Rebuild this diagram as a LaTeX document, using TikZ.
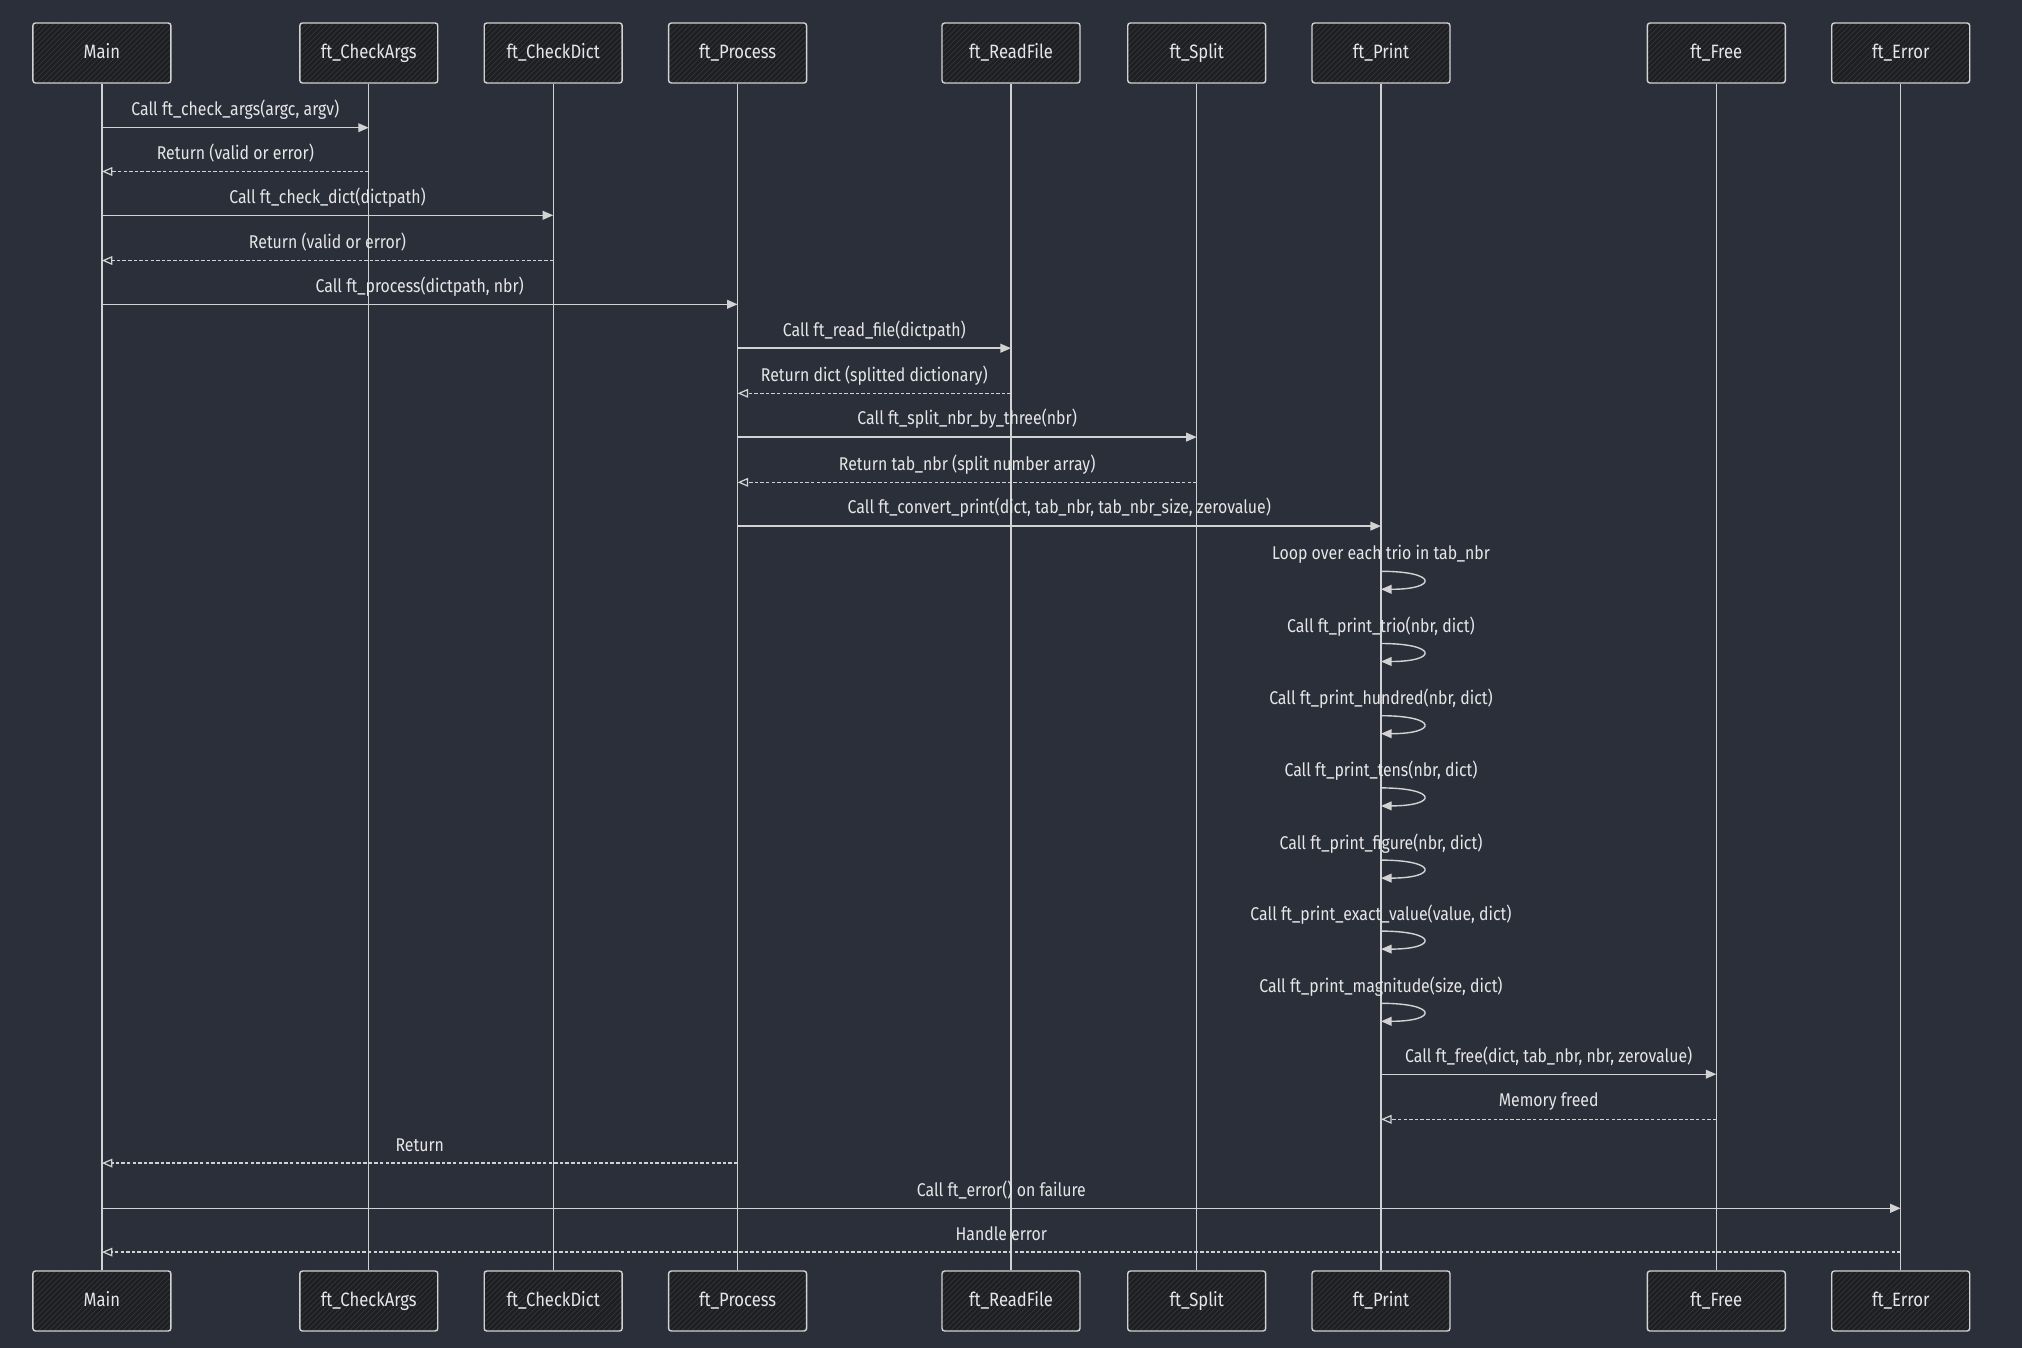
\documentclass[tikz,border=0pt]{standalone}
\usepackage{fontspec}
\setmainfont{Fira Sans}[FakeStretch=0.86]
\usetikzlibrary{arrows.meta,patterns}
\definecolor{bgcol}{HTML}{2B2F3A}
\definecolor{boxcol}{HTML}{1E1F22}
\definecolor{hatchcol}{HTML}{34363C}
\definecolor{linecol}{HTML}{D2D2D2}
\definecolor{textcol}{HTML}{E6E6E6}

\begin{document}
\begin{tikzpicture}[x=0.02cm,y=-0.02cm,
  actor/.style={draw=linecol,line width=0.8pt,rounded corners=1.5pt,
    preaction={fill=boxcol},
    preaction={pattern=north east lines,pattern color=hatchcol},
    minimum width=2.76cm,minimum height=1.2cm,text height=1.6ex,text depth=0.4ex,
    text=textcol,font=\fontsize{11}{13}\selectfont},
  life/.style={draw=linecol,line width=0.7pt},
  call/.style={draw=linecol,line width=0.8pt,-{Triangle[length=6pt,width=5pt]}},
  ret/.style={draw=linecol,line width=0.7pt,dash pattern=on 2pt off 1.2pt,
    -{Triangle[open,length=6pt,width=5pt]}},
  msg/.style={midway,yshift=0.36cm,text=textcol,font=\fontsize{10.5}{12}\selectfont},
  loopmsg/.style={text=textcol,font=\fontsize{10.5}{12}\selectfont}]
  \fill[bgcol] (0,0) rectangle (2022,1348);
  \useasboundingbox (0,0) rectangle (2022,1348);
  % participants, top and bottom, with their lifelines
  \foreach \n/\x/\t in {main/101.9/Main, args/368.8/ft\_CheckArgs, dict/553.2/ft\_CheckDict,
      proc/737.6/ft\_Process, read/1011/ft\_ReadFile, split/1196.7/ft\_Split,
      print/1381/ft\_Print, free/1716.3/ft\_Free, err/1900.7/ft\_Error} {
    \node[actor] (\n-t) at (\x,53) {\t};
    \node[actor] (\n-b) at (\x,1301) {\t};
    \draw[life] (\n-t.south) -- (\n-b.north);
  }
  % messages
  \draw[call] (main-t |- 0,127.7) -- (args-t |- 0,127.7) node[msg] {Call ft\_check\_args(argc, argv)};
  \draw[ret] (args-t |- 0,171.5) -- (main-t |- 0,171.5) node[msg] {Return (valid or error)};
  \draw[call] (main-t |- 0,215.3) -- (dict-t |- 0,215.3) node[msg] {Call ft\_check\_dict(dictpath)};
  \draw[ret] (dict-t |- 0,260.5) -- (main-t |- 0,260.5) node[msg] {Return (valid or error)};
  \draw[call] (main-t |- 0,304.3) -- (proc-t |- 0,304.3) node[msg] {Call ft\_process(dictpath, nbr)};
  \draw[call] (proc-t |- 0,348.2) -- (read-t |- 0,348.2) node[msg] {Call ft\_read\_file(dictpath)};
  \draw[ret] (read-t |- 0,393.3) -- (proc-t |- 0,393.3) node[msg] {Return dict (splitted dictionary)};
  \draw[call] (proc-t |- 0,437.1) -- (split-t |- 0,437.1) node[msg] {Call ft\_split\_nbr\_by\_three(nbr)};
  \draw[ret] (split-t |- 0,482.3) -- (proc-t |- 0,482.3) node[msg] {Return tab\_nbr (split number array)};
  \draw[call] (proc-t |- 0,526.1) -- (print-t |- 0,526.1) node[msg] {Call ft\_convert\_print(dict, tab\_nbr, tab\_nbr\_size, zerovalue)};
  % self calls on ft_Print
  \foreach \y/\t in {554.5/{Loop over each trio in tab\_nbr}, 626.7/{Call ft\_print\_trio(nbr, dict)},
      698.9/{Call ft\_print\_hundred(nbr, dict)}, 771.1/{Call ft\_print\_tens(nbr, dict)},
      843.3/{Call ft\_print\_figure(nbr, dict)}, 914.3/{Call ft\_print\_exact\_value(value, dict)},
      986.5/{Call ft\_print\_magnitude(size, dict)}} {
    \node[loopmsg] at (print-t |- 0,\y) {\t};
    \draw[call] (print-t |- 0,\y+16.8) .. controls +(57,0) and +(57,0) .. (print-t |- 0,\y+34.8);
  }
  \draw[call] (print-t |- 0,1074.2) -- (free-t |- 0,1074.2) node[msg] {Call ft\_free(dict, tab\_nbr, nbr, zerovalue)};
  \draw[ret] (free-t |- 0,1119.3) -- (print-t |- 0,1119.3) node[msg] {Memory freed};
  \draw[ret] (proc-t |- 0,1163.1) -- (main-t |- 0,1163.1) node[msg] {Return};
  \draw[call] (main-t |- 0,1208.3) -- (err-t |- 0,1208.3) node[msg] {Call ft\_error() on failure};
  \draw[ret] (err-t |- 0,1252.1) -- (main-t |- 0,1252.1) node[msg] {Handle error};
\end{tikzpicture}
\end{document}
